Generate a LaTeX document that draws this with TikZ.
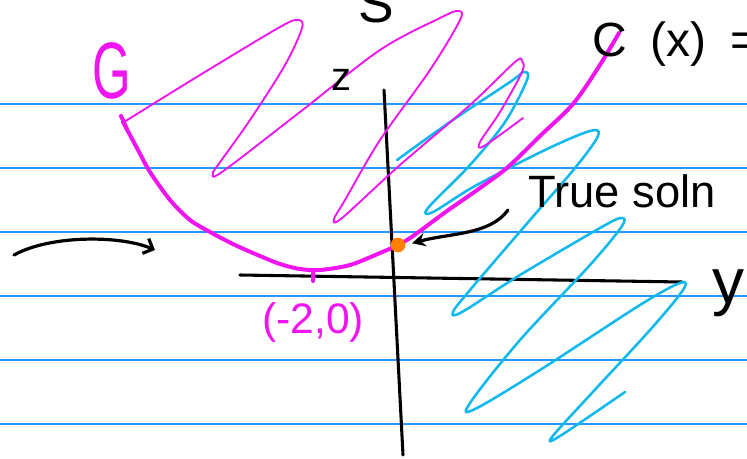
\documentclass[tikz,border=0pt]{standalone}
\usepackage{fontspec}
\setmainfont{Liberation Sans}
\usetikzlibrary{arrows.meta}
\definecolor{ruleblue}{RGB}{40,150,255}
\definecolor{cyanpen}{RGB}{15,185,240}
\definecolor{magpen}{RGB}{240,20,240}
\definecolor{dotorange}{RGB}{255,128,0}
\begin{document}
\begin{tikzpicture}[x=0.75pt,y=-0.75pt,
  rule/.style={ruleblue,line width=1.1pt},
  axis/.style={black,line width=2.3pt,line cap=round},
  magthick/.style={magpen,line width=3pt,line cap=round,line join=round},
  magthin/.style={magpen,line width=1.4pt,line cap=round,line join=round},
  cyanline/.style={cyanpen,line width=1.9pt,line cap=round,line join=round},
  pen/.style={black,line width=2.4pt,line cap=round},
  lbl/.style={inner sep=0pt,anchor=base west}]
\useasboundingbox (0,0) rectangle (747,458);
\fill[white] (0,0) rectangle (747,458);
\foreach \yy in {104,168,232,296,360,424} \draw[rule] (0,\yy) -- (747,\yy);

% axes
\coordinate (vtop) at (384,90);
\coordinate (vbot) at (403,455);
\coordinate (hleft) at (240,275);
\coordinate (hright) at (682,282);
\draw[axis] (vtop) -- (vbot);
\draw[axis] (hleft) -- (hright);

% cyan scribble
\draw[cyanline] plot[smooth,tension=0.55] coordinates {(397,160) (450,122) (510,82) (524,72) (527,80) (505,122) (470,165) (428,208) (433,212) (475,186) (545,150) (590,131) (598,136) (575,168) (530,220) (470,290) (453,312) (462,312) (520,275) (600,228) (621,218) (622,226) (590,265) (520,340) (470,403) (475,409) (540,370) (640,305) (680,283) (683,290) (650,330) (590,395) (552,437) (560,436) (625,392)};

% thin magenta scribble
\draw[magthin] plot[smooth,tension=0.55] coordinates {(124,122) (200,75) (280,27) (298,20) (302,28) (285,65) (250,120) (218,165) (213,173) (222,172) (300,112) (380,50) (440,18) (458,11) (460,20) (430,70) (380,140) (345,200) (334,219) (342,218) (400,165) (470,105) (515,62) (522,61) (522,72) (500,112) (480,142) (484,146) (523,118)};

% thick magenta parabola
\draw[magthick] (121,116) -- (127,129);
\draw[magthick] plot[smooth,tension=0.5] coordinates {(123,122) (138,150) (150,172) (170,200) (190,220) (210,232) (235,245) (260,256) (280,264) (300,269) (320,270) (350,265) (380,253) (398,245) (413,236) (447,211) (480,188) (508,167) (540,136) (573,104) (598,68) (619,33)};
\draw[magthick] (313,270) -- (313,281);

% dot
\node[circle,fill=dotorange,inner sep=0pt,minimum size=11pt] (dot) at (398,245) {};

% labels
\node[lbl,font=\fontsize{34}{34}\selectfont] (tsoln) at (528,207) {True soln};
\node[lbl,magpen,font=\fontsize{60}{60}\selectfont,xscale=0.62] (G) at (92,98) {G};
\node[lbl,font=\fontsize{30}{30}\selectfont] (z) at (331,90) {z};
\node[lbl,font=\fontsize{40}{40}\selectfont] (S) at (358,22) {S};
\node[lbl,magpen,font=\fontsize{32}{32}\selectfont] (pt) at (262,333) {(-2,0)};
\node[lbl,font=\fontsize{48}{48}\selectfont] (yl) at (712,303) {y};
\node[lbl,font=\fontsize{36}{36}\selectfont] (cx) at (592,56) {C\hspace{0.5em}(x)\hspace{0.5em}=};

% arrows
\coordinate (a1) at (508,210);
\draw[pen,shorten >=5pt,-{Stealth[length=10pt,width=10pt]}] (a1) .. controls (490,235) and (450,233) .. (dot.east);
\coordinate (l1) at (14,255);
\coordinate (l2) at (155,250);
\draw[pen,-{Straight Barb[length=6pt,width=12pt]}] (l1) .. controls (50,235) and (120,235) .. (l2);
\end{tikzpicture}
\end{document}
